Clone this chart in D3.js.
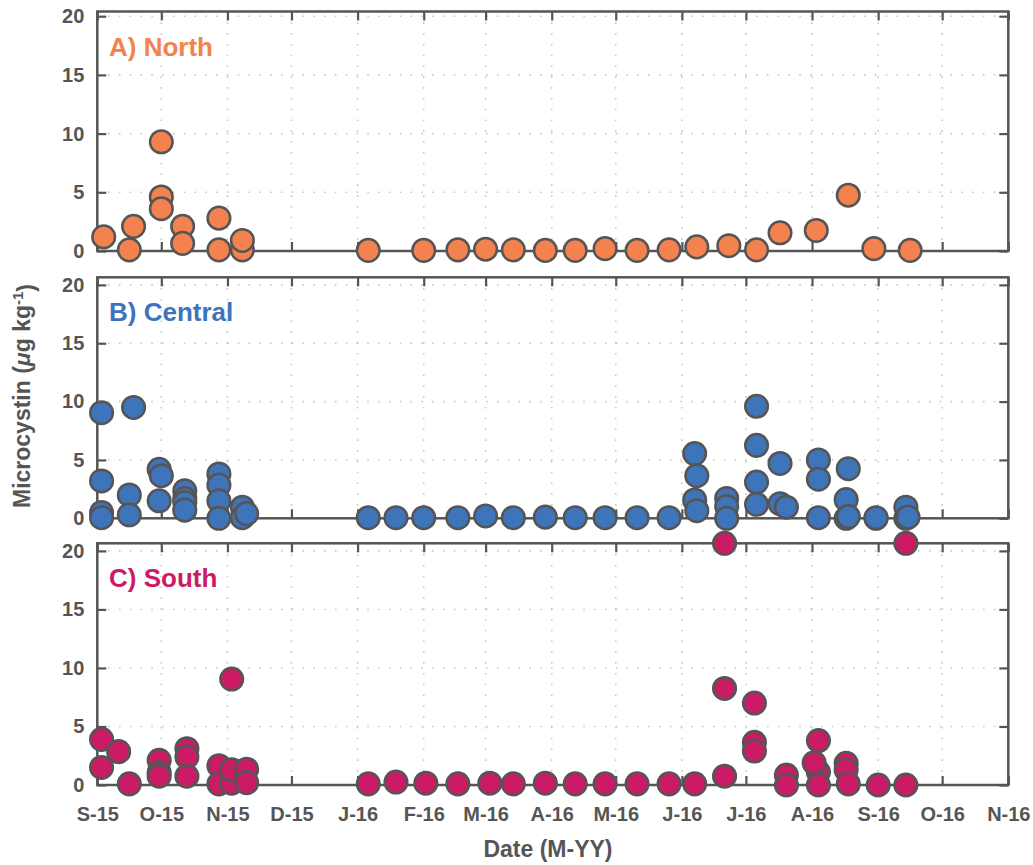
<!DOCTYPE html>
<html><head><meta charset="utf-8">
<script src="https://cdn.jsdelivr.net/npm/d3@7"></script>
<style>
body{margin:0;background:#fff}
text{font-family:"Liberation Sans",Arial,Helvetica,sans-serif;font-weight:bold}
</style>
</head><body>
<svg id="c" width="1033" height="865"></svg>
<script>
// ---- data ----
const monthTicks = ["2015-09-01","2015-10-01","2015-11-01","2015-12-01","2016-01-01","2016-02-01","2016-03-01",
  "2016-04-01","2016-05-01","2016-06-01","2016-07-01","2016-08-01","2016-09-01","2016-10-01","2016-11-01"];
const tickLabels = ["S-15","O-15","N-15","D-15","J-16","F-16","M-16","A-16","M-16","J-16","J-16","A-16","S-16","O-16","N-16"];
const yTicks = [0,5,10,15,20];

const northDates = ["2015-09-04","2015-09-16","2015-09-18","2015-10-01","2015-10-01","2015-10-01","2015-10-11","2015-10-11",
  "2015-10-28","2015-10-28","2015-11-08","2015-11-08","2016-01-06","2016-02-01","2016-02-17","2016-03-01","2016-03-14",
  "2016-03-29","2016-04-12","2016-04-26","2016-05-11","2016-05-26","2016-06-08","2016-06-23","2016-07-06","2016-07-17",
  "2016-08-03","2016-08-18","2016-08-30","2016-09-16"];
const northValues = [1.2,0.1,2.1,9.3,4.6,3.6,2.1,0.65,2.8,0.1,0.1,0.9,0.05,0.05,0.1,0.15,0.1,0.05,0.05,0.2,0.05,0.1,
  0.35,0.45,0.1,1.55,1.75,4.75,0.2,0.05];

const centralDates = ["2015-09-03","2015-09-03","2015-09-03","2015-09-03","2015-09-16","2015-09-16","2015-09-18",
  "2015-09-30","2015-09-30","2015-10-01","2015-10-12","2015-10-12","2015-10-12","2015-10-12","2015-10-28","2015-10-28",
  "2015-10-28","2015-10-28","2015-11-08","2015-11-08","2015-11-10","2016-01-06","2016-01-19","2016-02-01","2016-02-17",
  "2016-03-01","2016-03-14","2016-03-29","2016-04-12","2016-04-26","2016-05-11","2016-05-26","2016-06-07","2016-06-07",
  "2016-06-08","2016-06-08","2016-06-22","2016-06-22","2016-06-22","2016-07-06","2016-07-06","2016-07-06","2016-07-06",
  "2016-07-17","2016-07-17","2016-07-20","2016-08-04","2016-08-04","2016-08-04","2016-08-17","2016-08-17","2016-08-18",
  "2016-08-18","2016-08-31","2016-08-31","2016-09-14","2016-09-14","2016-09-15"];
const centralValues = [9.05,3.2,0.5,0.05,2.0,0.3,9.5,4.2,1.5,3.65,2.35,1.7,1.35,0.7,3.8,2.85,1.5,0.0,0.95,0.05,0.4,
  0.05,0.05,0.05,0.05,0.2,0.05,0.1,0.05,0.05,0.05,0.05,5.55,1.57,3.65,0.65,1.7,1.0,0.0,9.6,6.25,3.1,1.2,4.7,1.25,0.95,
  5.0,3.35,0.05,1.6,0.0,4.25,0.15,0.0,0.05,0.95,0.0,0.1];

const southDates = ["2015-09-03","2015-09-03","2015-09-11","2015-09-16","2015-09-30","2015-09-30","2015-09-30",
  "2015-10-13","2015-10-13","2015-10-13","2015-10-28","2015-10-28","2015-11-03","2015-11-03","2015-11-03","2015-11-10",
  "2015-11-10","2016-01-06","2016-01-19","2016-02-02","2016-02-17","2016-03-03","2016-03-14","2016-03-29","2016-04-12",
  "2016-04-26","2016-05-11","2016-05-26","2016-06-07","2016-06-21","2016-06-21","2016-06-21","2016-07-05","2016-07-05",
  "2016-07-05","2016-07-20","2016-07-20","2016-08-04","2016-08-04","2016-08-04","2016-08-02","2016-08-17","2016-08-17",
  "2016-08-18","2016-09-01","2016-09-14","2016-09-14"];
const southValues = [3.9,1.5,2.85,0.1,2.1,1.05,0.75,3.1,2.4,0.75,1.65,0.1,9.05,0.15,1.3,1.35,0.2,0.1,0.25,0.15,0.1,
  0.15,0.1,0.15,0.1,0.1,0.1,0.1,0.1,20.65,8.25,0.75,7.0,3.65,2.9,0.85,0.0,3.8,1.1,0.0,1.9,1.85,1.3,0.1,0.0,20.65,0.0];

const panelNames = ["A) North","B) Central","C) South"];
const panelColors = ["#F3824F","#3E75BA","#CB1B67"];

// ---- layout ----
const left = 97.3, right = 1008.3;
const layout = [
  {top: 11.5, bottom: 251, ymax: 20.4},
  {top: 277.3, bottom: 518.3, ymax: 20.65},
  {top: 543.3, bottom: 785, ymax: 20.65}
];
const axisColor = "#555";
const parse = d3.utcParse("%Y-%m-%d");
const svg = d3.select("#c");
const x = d3.scaleUtc().domain([parse("2015-09-01"), parse("2016-11-01")]).range([left, right]);
const tickDates = monthTicks.map(parse);
const series = [[northDates,northValues],[centralDates,centralValues],[southDates,southValues]];

layout.forEach((p, i) => {
  const y = d3.scaleLinear().domain([0, p.ymax]).range([p.bottom, p.top]);
  const g = svg.append("g");
  // grid
  g.append("g").selectAll("line").data(tickDates.slice(1,-1)).join("line")
    .attr("x1", d => x(d)).attr("x2", d => x(d)).attr("y1", p.top).attr("y2", p.bottom)
    .attr("stroke", "#c8c8c8").attr("stroke-width", 1.6).attr("stroke-dasharray", "1.6,9.2");
  g.append("g").selectAll("line").data(yTicks.filter(v => v > 0)).join("line")
    .attr("x1", left).attr("x2", right).attr("y1", d => y(d)).attr("y2", d => y(d))
    .attr("stroke", "#c8c8c8").attr("stroke-width", 1.6).attr("stroke-dasharray", "1.6,9.2");

  const styleAxis = sel => {
    sel.select(".domain").remove();
    sel.selectAll(".tick line").attr("stroke", axisColor).attr("stroke-width", 2.2);
    sel.selectAll(".tick text").attr("fill", axisColor).style("font-size", "20px")
      .style("font-family", '"Liberation Sans",Arial,sans-serif').style("font-weight", "bold");
  };
  g.append("g").attr("transform", `translate(0,${p.bottom})`)
    .call(d3.axisBottom(x).tickValues(tickDates).tickSizeInner(-9).tickSizeOuter(0).tickPadding(22)
      .tickFormat((d, j) => i === 2 ? tickLabels[j] : ""))
    .call(styleAxis);
  g.append("g").attr("transform", `translate(0,${p.top})`)
    .call(d3.axisTop(x).tickValues(tickDates).tickSizeInner(-9).tickSizeOuter(0).tickFormat(""))
    .call(styleAxis);
  g.append("g").attr("transform", `translate(${left},0)`)
    .call(d3.axisLeft(y).tickValues(yTicks).tickSizeInner(-9).tickSizeOuter(0).tickPadding(13))
    .call(styleAxis);
  g.append("g").attr("transform", `translate(${right},0)`)
    .call(d3.axisRight(y).tickValues(yTicks).tickSizeInner(-9).tickSizeOuter(0).tickFormat(""))
    .call(styleAxis);
  g.selectAll("text").attr("text-anchor", null);
  // box
  g.append("rect").attr("x", left).attr("y", p.top).attr("width", right - left).attr("height", p.bottom - p.top)
    .attr("fill", "none").attr("stroke", axisColor).attr("stroke-width", 2.5);

  // label
  g.append("text").attr("x", 109).attr("y", p.top + 44).attr("fill", panelColors[i])
    .style("font-size", "26px").text(panelNames[i]);

  // points
  const [ds, vs] = series[i];
  g.append("g").selectAll("circle").data(ds.map((d, k) => ({d: parse(d), v: vs[k]}))).join("circle")
    .attr("cx", d => x(d.d)).attr("cy", d => y(d.v)).attr("r", 11.3)
    .attr("fill", panelColors[i]).attr("stroke", axisColor).attr("stroke-width", 2.5);
});

// fix anchors
svg.selectAll(".tick text").each(function(){ });

// axis titles
svg.append("text").attr("x", 548).attr("y", 857).attr("text-anchor", "middle").attr("fill", axisColor)
  .style("font-size", "23px").text("Date (M-YY)");
const yl = svg.append("text").attr("transform", "translate(30,396) rotate(-90)").attr("text-anchor", "middle")
  .attr("fill", axisColor).style("font-size", "23px");
yl.append("tspan").text("Microcystin (");
yl.append("tspan").style("font-style", "italic").text("μ");
yl.append("tspan").text("g kg");
yl.append("tspan").attr("dy", "-0.45em").style("font-size", "15px").text("-1");
yl.append("tspan").attr("dy", "0.45em").style("font-size", "23px").text(")");
</script>
</body></html>
